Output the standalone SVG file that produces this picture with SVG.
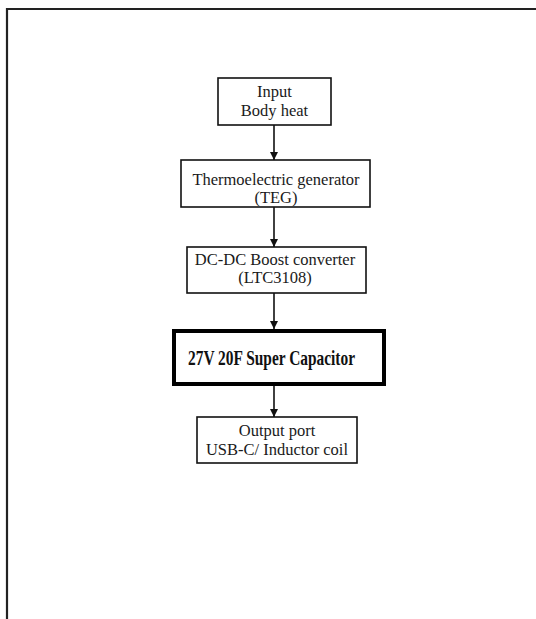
<svg xmlns="http://www.w3.org/2000/svg" width="536" height="619" viewBox="0 0 536 619">
<style>
.box{fill:#fff;stroke:#111;stroke-width:1.6}
.thick{fill:#fff;stroke:#000;stroke-width:4}
.t{font-family:"Liberation Serif","Times New Roman",serif;font-size:16.5px;fill:#1a1a1a;text-anchor:middle}
.b{font-family:"Liberation Serif","Times New Roman",serif;font-size:22px;font-weight:bold;fill:#111}
.c{stroke:#111;stroke-width:1.6;fill:none}
</style>
<defs>
<marker id="ah" markerWidth="8" markerHeight="8" refX="8" refY="4" orient="auto" markerUnits="userSpaceOnUse">
<path d="M0,0 L8,4 L0,8 Z" fill="#111"/>
</marker>
</defs>
<rect width="536" height="619" fill="#fff"/>
<g id="frame">
<path d="M7,620 L7,9 L537,9" fill="none" stroke="#222" stroke-width="2.2"/>
</g>
<g id="connectors">
<line class="c" x1="274" y1="125" x2="274" y2="160" marker-end="url(#ah)"/>
<line class="c" x1="274" y1="207" x2="274" y2="247" marker-end="url(#ah)"/>
<line class="c" x1="274" y1="293" x2="274" y2="329" marker-end="url(#ah)"/>
<line class="c" x1="274" y1="385" x2="274" y2="417" marker-end="url(#ah)"/>
</g>
<g id="input">
<rect class="box" x="218" y="78" width="113" height="47"/>
<text class="t" x="274.5" y="97">Input</text>
<text class="t" x="274.5" y="116">Body heat</text>
</g>
<g id="teg">
<rect class="box" x="181" y="160" width="189" height="47"/>
<text class="t" x="276" y="185">Thermoelectric generator</text>
<text class="t" x="276" y="203">(TEG)</text>
</g>
<g id="boost">
<rect class="box" x="187" y="247" width="179" height="46"/>
<text class="t" x="275" y="265">DC-DC Boost converter</text>
<text class="t" x="275" y="283">(LTC3108)</text>
</g>
<g id="capacitor">
<rect class="thick" x="174" y="331" width="210" height="53"/>
<text class="b" x="188" y="365" textLength="167" lengthAdjust="spacingAndGlyphs">27V 20F Super Capacitor</text>
</g>
<g id="output">
<rect class="box" x="197" y="417" width="160" height="46"/>
<text class="t" x="277" y="436">Output port</text>
<text class="t" x="277" y="455">USB-C/ Inductor coil</text>
</g>
</svg>
